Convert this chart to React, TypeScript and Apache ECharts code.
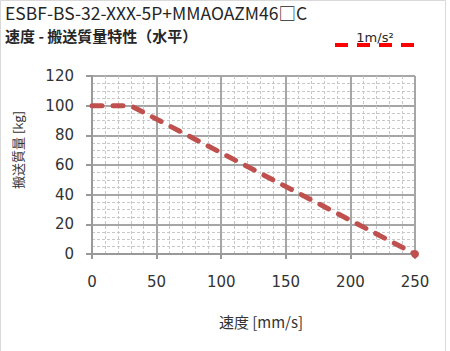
import React, { useEffect, useRef } from "react";
import * as echarts from "echarts";

const titleLine1 = "ESBF-BS-32-XXX-5P+MMAOAZM46□C";
const titleLine2 = "速度 - 搬送質量特性（水平）";
const legendLabel = "1m/s²";
const xName = "速度 [mm/s]";
const yName = "搬送質量 [kg]";

const speed = [0, 30, 250];
const mass = [100, 100, 0];

const xTicks = [0, 50, 100, 150, 200, 250];
const yTicks = [0, 20, 40, 60, 80, 100, 120];

export default function App() {
  const ref = useRef<HTMLDivElement>(null);
  useEffect(() => {
    if (!ref.current) return;
    document.body.style.margin = "0";
    const chart = echarts.init(ref.current, null, { renderer: "svg" });
    const numFont = "'DejaVu Sans', Verdana, sans-serif";
    const cjkFont = "'Noto Sans CJK JP', 'DejaVu Sans', sans-serif";
    const data = speed.map((s, i) =>
      i === speed.length - 1
        ? { value: [s, mass[i]], symbol: "circle", symbolSize: 8 }
        : { value: [s, mass[i]], symbol: "none" }
    );
    chart.setOption({
      animation: false,
      backgroundColor: "#ffffff",
      grid: { left: 92, right: 35, top: 76, bottom: 97 },
      xAxis: {
        type: "value",
        min: xTicks[0],
        max: xTicks[xTicks.length - 1],
        interval: 50,
        axisLine: { show: true, lineStyle: { color: "#999999", width: 2 } },
        axisTick: { show: true, length: 5, lineStyle: { color: "#999999", width: 2 } },
        axisLabel: { color: "#333333", fontSize: 15, fontFamily: numFont, margin: 20 },
        splitLine: { show: true, lineStyle: { color: "#a6a6a6", width: 2 } },
        minorTick: { show: false, splitNumber: 5 },
        minorSplitLine: { show: true, lineStyle: { color: "#c8c8c8", width: 1, type: [3, 2] } },
      },
      yAxis: {
        type: "value",
        min: yTicks[0],
        max: yTicks[yTicks.length - 1],
        interval: 20,
        axisLine: { show: true, lineStyle: { color: "#999999", width: 2 } },
        axisTick: { show: true, length: 6, lineStyle: { color: "#999999", width: 2 } },
        axisLabel: { color: "#333333", fontSize: 15, fontFamily: numFont, margin: 18 },
        splitLine: { show: true, lineStyle: { color: "#a6a6a6", width: 2 } },
        minorTick: { show: false, splitNumber: 4 },
        minorSplitLine: { show: true, lineStyle: { color: "#c8c8c8", width: 1, type: [3, 2] } },
      },
      series: [
        {
          type: "line",
          name: legendLabel,
          data,
          showSymbol: true,
          itemStyle: { color: "#c0504d" },
          lineStyle: { color: "#c0504d", width: 5, type: [10, 11], cap: "round" },
          z: 5,
        },
      ],
      graphic: [
        {
          type: "rect",
          shape: { x: 0.5, y: 0.5, width: 445, height: 400 },
          style: { fill: "none", stroke: "#d9d9d9", lineWidth: 1 },
          silent: true,
        },
        {
          type: "text",
          left: 5,
          top: 4,
          style: { text: titleLine1, font: `17.5px ${cjkFont}`, fill: "#262626" },
        },
        {
          type: "text",
          left: 5,
          top: 28,
          style: { text: titleLine2, font: `bold 15px ${cjkFont}`, fill: "#262626" },
        },
        {
          type: "line",
          shape: { x1: 335, y1: 45, x2: 414, y2: 45 },
          style: { stroke: "#ff0000", lineWidth: 4, lineDash: [13, 9] },
        },
        {
          type: "text",
          x: 375,
          y: 37,
          style: {
            text: legendLabel,
            font: `13px ${numFont}`,
            fill: "#262626",
            align: "center",
            verticalAlign: "middle",
          },
        },
        {
          type: "text",
          x: 261,
          y: 321,
          style: {
            text: xName,
            font: `15px ${cjkFont}`,
            fill: "#333333",
            align: "center",
            verticalAlign: "middle",
          },
        },
        {
          type: "text",
          x: 17.5,
          y: 150,
          rotation: Math.PI / 2,
          style: {
            text: yName,
            font: `13px ${cjkFont}`,
            fill: "#333333",
            align: "center",
            verticalAlign: "middle",
          },
        },
      ],
    });
    return () => chart.dispose();
  }, []);
  return (
    <div
      ref={ref}
      style={{ position: "absolute", left: 0, top: 0, width: 450, height: 351 }}
    />
  );
}
